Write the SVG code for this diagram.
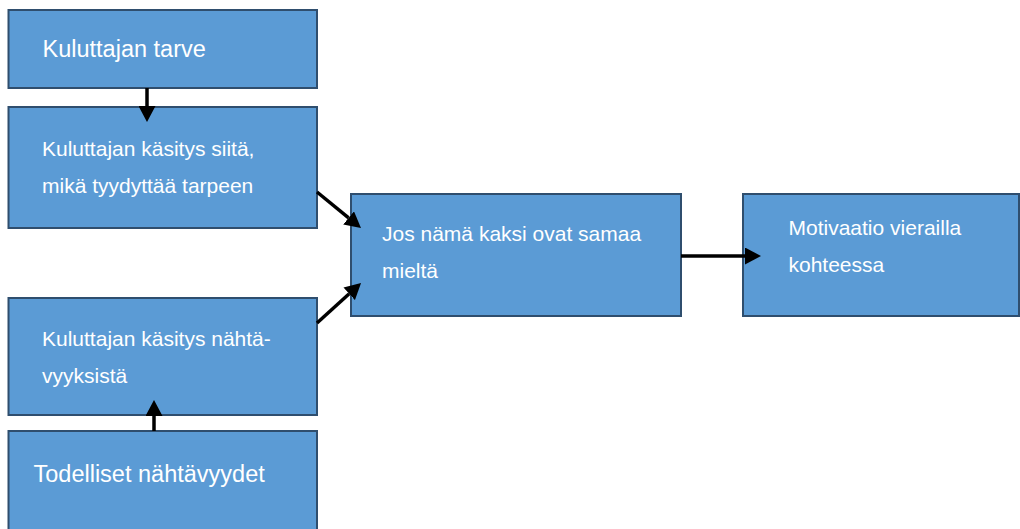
<svg xmlns="http://www.w3.org/2000/svg" width="1020" height="529" viewBox="0 0 1020 529">
<style>
.box{fill:#5B9BD5;stroke:#2F4E6E;stroke-width:2}
.t{font-family:"Liberation Sans",Arial,sans-serif;fill:#FFFFFF;font-size:21px}
.tl{font-family:"Liberation Sans",Arial,sans-serif;fill:#FFFFFF;font-size:23.5px}
.c{stroke:#000;stroke-width:3.5;fill:none;marker-end:url(#ah)}
</style>
<defs>
<marker id="ah" markerUnits="userSpaceOnUse" markerWidth="16" markerHeight="17" viewBox="0 0 16 17" refX="0" refY="8.5" orient="auto">
<path d="M0,0 L16,8.5 L0,17 Z" fill="#000"/>
</marker>
</defs>
<rect width="1020" height="529" fill="#FFFFFF"/>
<g id="n1"><rect class="box" x="8.5" y="10" width="308.5" height="78"/><text class="tl" x="42.5" y="57">Kuluttajan tarve</text></g>
<g id="n2"><rect class="box" x="8.5" y="107" width="308.5" height="121"/><text class="t" x="42" y="156">Kuluttajan käsitys siitä,</text><text class="t" x="42" y="193">mikä tyydyttää tarpeen</text></g>
<g id="n3"><rect class="box" x="8.5" y="298" width="308.5" height="117"/><text class="t" x="42" y="346">Kuluttajan käsitys nähtä-</text><text class="t" x="42" y="383">vyyksistä</text></g>
<g id="n4"><rect class="box" x="8.5" y="431" width="308.5" height="110"/><text class="tl" x="33.5" y="482">Todelliset nähtävyydet</text></g>
<g id="n5"><rect class="box" x="351" y="194" width="330" height="122"/><text class="t" x="382" y="241">Jos nämä kaksi ovat samaa</text><text class="t" x="382" y="278">mieltä</text></g>
<g id="n6"><rect class="box" x="743" y="194" width="276" height="122"/><text class="t" x="788.5" y="235">Motivaatio vierailla</text><text class="t" x="788.5" y="272">kohteessa</text></g>
<g id="connectors">
<line class="c" x1="147" y1="88" x2="147" y2="106"/>
<line class="c" x1="154" y1="431" x2="154" y2="416"/>
<line class="c" x1="317" y1="192" x2="348.6" y2="217.9"/>
<line class="c" x1="317" y1="323" x2="349.2" y2="293.8"/>
<line class="c" x1="681" y1="256" x2="745" y2="256"/>
</g>
</svg>
